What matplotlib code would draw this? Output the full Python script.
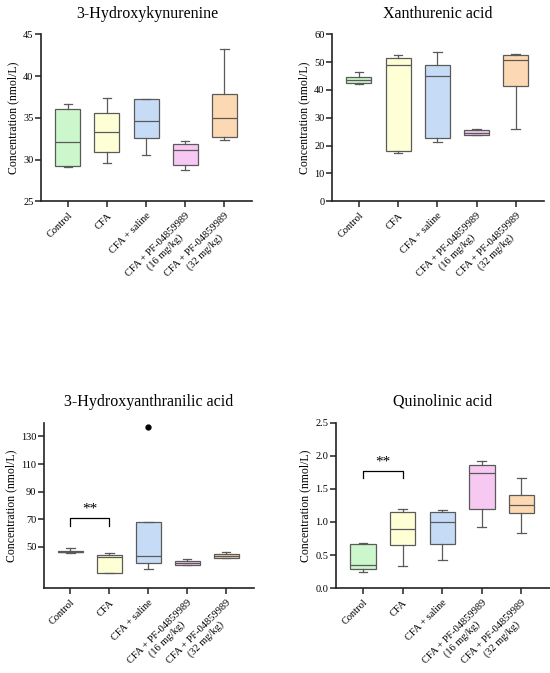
import matplotlib.pyplot as plt

plt.rcParams['font.family'] = ['Liberation Serif', 'DejaVu Serif']

groups = ['Control', 'CFA', 'CFA + saline',
          'CFA + PF-04859989\n(16 mg/kg)', 'CFA + PF-04859989\n(32 mg/kg)']
box_colors = ['#ccf7cc', '#ffffd6', '#c6dcf6', '#f7c8f1', '#fcd9b2']

# five-number summaries: (low, q1, median, q3, high)
hk_stats = [(29.1, 29.2, 32.1, 36.1, 36.6),
            (29.6, 30.9, 33.3, 35.6, 37.4),
            (30.5, 32.6, 34.6, 37.2, 37.3),
            (28.7, 29.4, 31.1, 31.9, 32.2),
            (32.3, 32.7, 35.0, 37.8, 43.2)]
xa_stats = [(42.3, 42.5, 43.5, 44.8, 46.6),
            (17.3, 18.2, 48.8, 51.5, 52.6),
            (21.4, 22.7, 45.0, 49.0, 53.5),
            (23.7, 23.9, 24.7, 25.5, 26.0),
            (25.8, 41.5, 50.8, 52.6, 52.8)]
haa_stats = [(45.8, 45.9, 46.6, 47.3, 49.2),
             (31.0, 31.3, 42.8, 44.0, 45.3),
             (34.0, 38.6, 43.0, 67.7, 67.7),
             (36.8, 37.0, 38.5, 39.5, 41.0),
             (42.0, 42.2, 43.0, 44.7, 46.1)]
haa_fliers = [[], [], [136.5], [], []]
qa_stats = [(0.25, 0.29, 0.35, 0.66, 0.69),
            (0.33, 0.65, 0.90, 1.15, 1.19),
            (0.42, 0.66, 1.00, 1.15, 1.18),
            (0.92, 1.19, 1.74, 1.86, 1.92),
            (0.83, 1.13, 1.26, 1.41, 1.66)]

panels = [
    dict(title='3-Hydroxykynurenine', stats=hk_stats, fliers=None,
         ylim=(25, 45), yticks=[25, 30, 35, 40, 45], fmt='{:g}',
         rect=[0.075, 0.701, 0.384, 0.248], bracket=None),
    dict(title='Xanthurenic acid', stats=xa_stats, fliers=None,
         ylim=(0, 60), yticks=[0, 10, 20, 30, 40, 50, 60], fmt='{:g}',
         rect=[0.604, 0.701, 0.385, 0.248], bracket=None),
    dict(title='3-Hydroxyanthranilic acid', stats=haa_stats, fliers=haa_fliers,
         ylim=(20, 140), yticks=[50, 70, 90, 110, 130], fmt='{:g}',
         rect=[0.080, 0.126, 0.382, 0.246], bracket=(65.3, 70.6, 77.5)),
    dict(title='Quinolinic acid', stats=qa_stats, fliers=None,
         ylim=(0, 2.5), yticks=[0.0, 0.5, 1.0, 1.5, 2.0, 2.5], fmt='{:.1f}',
         rect=[0.611, 0.126, 0.389, 0.246], bracket=(1.66, 1.77, 1.90)),
]

edge = '#5a5a5a'
fig = plt.figure(figsize=(5.5, 6.73), dpi=100)

for p in panels:
    ax = fig.add_axes(p['rect'])
    bstats = []
    for i, (lo, q1, med, q3, hi) in enumerate(p['stats']):
        fl = p['fliers'][i] if p['fliers'] else []
        bstats.append(dict(whislo=lo, q1=q1, med=med, q3=q3, whishi=hi,
                           fliers=fl))
    bp = ax.bxp(bstats, positions=range(5), widths=0.64, patch_artist=True,
                capwidths=0.22,
                boxprops=dict(edgecolor=edge, linewidth=0.9),
                medianprops=dict(color=edge, linewidth=0.9),
                whiskerprops=dict(color=edge, linewidth=0.9),
                capprops=dict(color=edge, linewidth=0.9),
                flierprops=dict(marker='o', markerfacecolor='black',
                                markeredgecolor='black', markersize=3.5))
    for patch, c in zip(bp['boxes'], box_colors):
        patch.set_facecolor(c)

    ax.set_xlim(-0.68, 4.72)
    ax.set_ylim(*p['ylim'])
    ax.set_yticks(p['yticks'])
    ax.set_yticklabels([p['fmt'].format(v) for v in p['yticks']])
    ax.set_xticks(range(5))
    ax.set_xticklabels(groups, rotation=45, ha='right',
                       rotation_mode='anchor', multialignment='center')
    ax.tick_params(axis='both', labelsize=7.5, length=4, width=1.1,
                   direction='out', color='#222222')
    ax.tick_params(axis='y', pad=1.5)
    ax.tick_params(axis='x', pad=3)
    for s in ['top', 'right']:
        ax.spines[s].set_visible(False)
    for s in ['left', 'bottom']:
        ax.spines[s].set_linewidth(1.2)
        ax.spines[s].set_color('#222222')
    ax.set_ylabel('Concentration (nmol/L)', fontsize=8.5, labelpad=3)
    ax.set_title(p['title'], fontsize=11.5, pad=12)

    if p['bracket']:
        y0, y1, ys = p['bracket']
        ax.plot([0, 0, 1, 1], [y0, y1, y1, y0], color='black', linewidth=0.9)
        ax.text(0.5, ys, '**', ha='center', va='center', fontsize=11)

fig.savefig('out.png', dpi=100)
plt.close(fig)
